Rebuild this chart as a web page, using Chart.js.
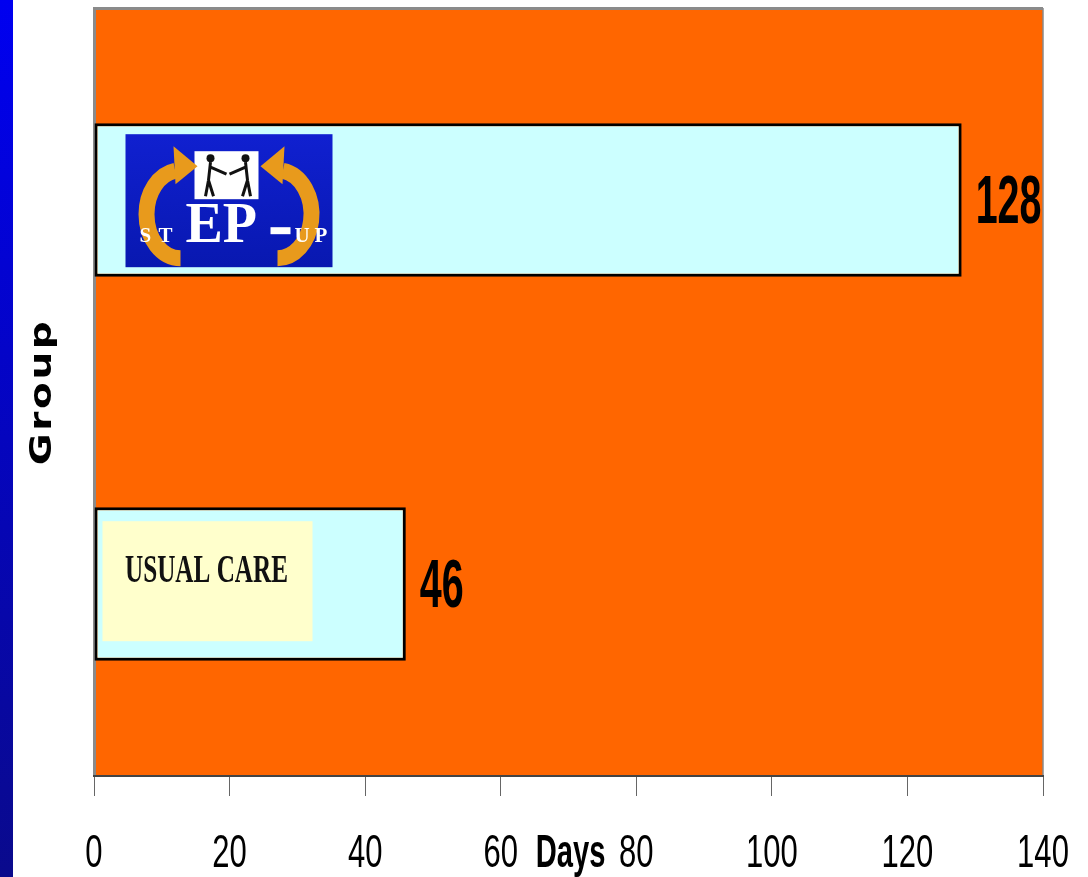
<!DOCTYPE html>
<html>
<head>
<meta charset="utf-8">
<script src="https://cdn.jsdelivr.net/npm/chart.js@4.4.1/dist/chart.umd.min.js"></script>
<style>
html, body { margin: 0; padding: 0; background: #fff; }
#wrap { position: relative; width: 1088px; height: 877px; }
#strip { position: absolute; left: 0; top: 0; width: 13px; height: 877px; background: linear-gradient(#0000f0, #0a0a8c); }
canvas { position: absolute; left: 0; top: 0; }
</style>
</head>
<body>
<div id="wrap">
  <div id="strip"></div>
  <canvas id="chart" width="1088" height="877"></canvas>
</div>
<script>
// data
const groups = ['STEP-UP', 'USUAL CARE'];
const days = [128, 46];
const dayTicks = [0, 20, 40, 60, 80, 100, 120, 140];

// tall, narrow text like the original slide font
function condensedText(ctx, text, x, y, size, sx, bold, align) {
    ctx.save();
    ctx.font = (bold ? 'bold ' : '') + size + 'px "Liberation Sans", Arial, sans-serif';
    ctx.textAlign = align || 'center';
    ctx.textBaseline = 'alphabetic';
    ctx.translate(x, y);
    ctx.scale(sx, 1);
    ctx.fillText(text, 0, 0);
    ctx.restore();
}

// orange plot area with the grey shadow edge
const plotBackground = {
    id: 'plotBackground',
    beforeDraw(chart) {
        const { ctx, chartArea: a } = chart;
        ctx.save();
        ctx.fillStyle = '#ff6600';
        ctx.fillRect(a.left, a.top, a.right - a.left, a.bottom - a.top);
        ctx.strokeStyle = '#8a8a8a';
        ctx.lineWidth = 3;
        ctx.beginPath();
        ctx.moveTo(a.left + 0.5, a.bottom);
        ctx.lineTo(a.left + 0.5, a.top + 0.5);
        ctx.lineTo(a.right, a.top + 0.5);
        ctx.stroke();
        ctx.lineWidth = 1.5;
        ctx.beginPath();
        ctx.moveTo(a.right, a.top);
        ctx.lineTo(a.right, a.bottom);
        ctx.stroke();
        ctx.restore();
    }
};

// STEP-UP logo drawn inside the first bar
function drawLogo(ctx, x, y) {
    const w = 207, h = 133;
    const g = ctx.createLinearGradient(x, y, x, y + h);
    g.addColorStop(0, '#1020d0');
    g.addColorStop(1, '#0818b0');
    ctx.fillStyle = g;
    ctx.fillRect(x, y, w, h);

    // white picture box with two figures
    ctx.fillStyle = '#ffffff';
    ctx.fillRect(x + 69, y + 17, 64, 48);
    ctx.strokeStyle = '#111';
    ctx.fillStyle = '#111';
    ctx.lineWidth = 3;
    [[x + 85, 1], [x + 120, -1]].forEach(([fx, dir]) => {
        ctx.beginPath();
        ctx.arc(fx, y + 24, 4, 0, Math.PI * 2);
        ctx.fill();
        ctx.beginPath();
        ctx.moveTo(fx, y + 28);
        ctx.lineTo(fx - dir * 2, y + 46);
        ctx.lineTo(fx - dir * 5, y + 62);
        ctx.moveTo(fx - dir * 2, y + 46);
        ctx.lineTo(fx + dir * 3, y + 62);
        ctx.moveTo(fx, y + 33);
        ctx.lineTo(fx + dir * 16, y + 40);
        ctx.stroke();
    });

    // orange circling arrows
    ctx.strokeStyle = '#e89a1c';
    ctx.fillStyle = '#e89a1c';
    ctx.lineWidth = 16;
    ctx.beginPath();
    ctx.ellipse(x + 55, y + 80, 34, 44, 0, Math.PI * 0.5, Math.PI * 1.45);
    ctx.stroke();
    ctx.beginPath();
    ctx.ellipse(x + 152, y + 80, 34, 44, 0, -Math.PI * 0.45, Math.PI * 0.5);
    ctx.stroke();
    ctx.beginPath();
    ctx.moveTo(x + 72, y + 32);
    ctx.lineTo(x + 48, y + 12);
    ctx.lineTo(x + 50, y + 50);
    ctx.closePath();
    ctx.fill();
    ctx.beginPath();
    ctx.moveTo(x + 135, y + 32);
    ctx.lineTo(x + 159, y + 12);
    ctx.lineTo(x + 157, y + 50);
    ctx.closePath();
    ctx.fill();

    // lettering
    ctx.fillStyle = '#ffffff';
    ctx.textBaseline = 'alphabetic';
    ctx.textAlign = 'left';
    ctx.font = 'bold 21px "Liberation Serif"';
    ctx.fillText('S', x + 14, y + 108);
    ctx.fillText('T', x + 33, y + 108);
    ctx.fillText('U', x + 169, y + 108);
    ctx.fillText('P', x + 189, y + 108);
    ctx.font = 'bold 56px "Liberation Serif"';
    ctx.fillText('EP', x + 60, y + 108);
    ctx.fillRect(x + 145, y + 93, 20, 7);
}

// bar captions and value labels
const barLabels = {
    id: 'barLabels',
    afterDatasetsDraw(chart) {
        const { ctx } = chart;
        const bars = chart.getDatasetMeta(0).data;
        ctx.save();
        bars.forEach((bar, i) => {
            const top = bar.y - bar.height / 2;
            if (groups[i] === 'STEP-UP') {
                drawLogo(ctx, bar.base + 31, top + 11);
            } else {
                ctx.fillStyle = '#ffffcc';
                ctx.fillRect(bar.base + 8, top + 14, 210, 120);
                ctx.save();
                ctx.fillStyle = '#111';
                ctx.font = 'bold 40px "Liberation Serif"';
                ctx.textAlign = 'center';
                ctx.textBaseline = 'alphabetic';
                ctx.translate(bar.base + 112, top + 75);
                ctx.scale(0.63, 1);
                ctx.fillText(groups[i], 0, 0);
                ctx.restore();
            }
            // value next to bar end
            ctx.fillStyle = '#000';
            condensedText(ctx, String(days[i]), bar.x + 14, bar.y + 23, 68, 0.58, true, 'left');
        });
        ctx.restore();
    }
};

// x tick labels, "Days" and rotated "Group"
const axisText = {
    id: 'axisText',
    afterDraw(chart) {
        const { ctx, chartArea: a } = chart;
        const xs = chart.scales.x;
        ctx.save();
        ctx.fillStyle = '#000';
        dayTicks.forEach(v => {
            condensedText(ctx, String(v), xs.getPixelForValue(v), 867, 47, 0.66, false, 'center');
        });
        condensedText(ctx, 'Days', (a.left + a.right) / 2 + 2, 867, 47, 0.62, true, 'center');

        ctx.translate(51, (a.top + a.bottom) / 2);
        ctx.rotate(-Math.PI / 2);
        ctx.scale(1.3, 1);
        ctx.font = 'bold 30px "DejaVu Sans"';
        ctx.letterSpacing = '2px';
        ctx.textAlign = 'center';
        ctx.textBaseline = 'alphabetic';
        ctx.fillText('Group', 0, 0);
        ctx.restore();
    }
};

const ctx = document.getElementById('chart').getContext('2d');
new Chart(ctx, {
    type: 'bar',
    data: {
        labels: groups,
        datasets: [{
            label: 'Days',
            data: days,
            backgroundColor: '#ccffff',
            borderColor: '#000',
            borderWidth: 3,
            borderSkipped: false,
            barPercentage: 0.4,
            categoryPercentage: 1
        }]
    },
    options: {
        indexAxis: 'y',
        responsive: false,
        animation: false,
        layout: { padding: { left: 94, top: 8, right: 45, bottom: 2 } },
        plugins: {
            legend: { display: false },
            tooltip: { enabled: false }
        },
        scales: {
            y: { display: false },
            x: {
                min: 0,
                max: 140,
                afterBuildTicks: axis => { axis.ticks = dayTicks.map(v => ({ value: v })); },
                grid: { drawOnChartArea: false, drawTicks: true, tickLength: 20, color: '#666', lineWidth: 1 },
                border: { display: true, color: '#444', width: 2 },
                // labels are painted by axisText; this only keeps their room
                ticks: {
                    color: 'rgba(0,0,0,0)',
                    padding: 0,
                    maxRotation: 0,
                    font: { size: 10, lineHeight: 7.9 }
                }
            }
        }
    },
    plugins: [plotBackground, barLabels, axisText]
});
</script>
</body>
</html>
